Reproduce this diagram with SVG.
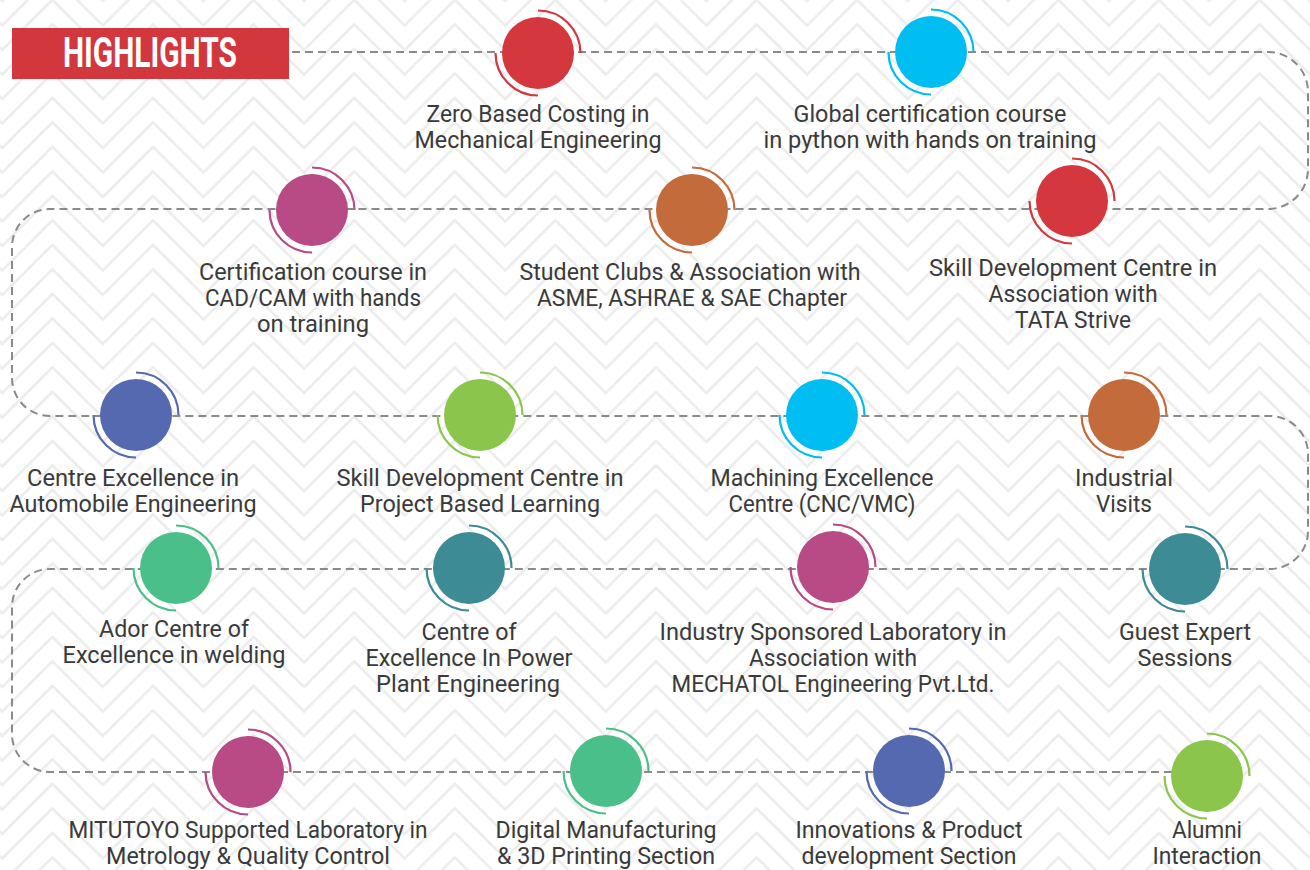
<svg xmlns="http://www.w3.org/2000/svg" xmlns:xlink="http://www.w3.org/1999/xlink" width="1310" height="870" viewBox="0 0 1310 870">
<style>
.lbl{font-family:Roboto,"Liberation Sans",sans-serif;font-size:23.5px;fill:#3a3a3a;text-anchor:middle}
.ttl{font-family:Roboto,"Liberation Sans",sans-serif;font-size:42px;font-weight:bold;fill:#ffffff;text-anchor:middle}
.conn{fill:none;stroke:#8a8a8a;stroke-width:2;stroke-dasharray:8 5}
.arc{fill:none;stroke-width:2.2}
.red circle{fill:#d4373d}.red use{stroke:#d4373d}
.cyan circle{fill:#00bdf2}.cyan use{stroke:#00bdf2}
.mag circle{fill:#b84a85}.mag use{stroke:#b84a85}
.org circle{fill:#c46b3c}.org use{stroke:#c46b3c}
.blue circle{fill:#5469b0}.blue use{stroke:#5469b0}
.lime circle{fill:#8cc54c}.lime use{stroke:#8cc54c}
.teal circle{fill:#3d8b95}.teal use{stroke:#3d8b95}
.grn circle{fill:#4bbf89}.grn use{stroke:#4bbf89}
</style>
<defs>
<pattern id="chev" patternUnits="userSpaceOnUse" x="2.1" y="-0.2" width="100.6" height="24.5">
<g fill="none" stroke="#ececec" stroke-width="2.6">
<path d="M-10,-38.7 L50.3,-49 L110.9,11.3" transform="translate(0,0)" style="display:none"/>
<path d="M-10,11.3 L50.3,-49 L110.9,11.3"/>
<path d="M-10,35.8 L50.3,-24.5 L110.9,35.8"/>
<path d="M-10,60.3 L50.3,0 L110.9,60.3"/>
<path d="M-10,84.8 L50.3,24.5 L110.9,84.8"/>
</g>
</pattern>
<path id="arcs" class="arc" d="M0,-42.5 A42.5,42.5 0 0 1 42.5,0 M-42.5,0 A42.5,42.5 0 0 0 0,42.5"/>
</defs>
<rect width="1310" height="870" fill="#ffffff"/>
<rect width="1310" height="870" fill="url(#chev)"/>

<g id="connectors">
<path class="conn" d="M292,52 H1268 A40,40 0 0 1 1308,92 V169 A40,40 0 0 1 1268,209 H50 A38,38 0 0 0 12,247 V378 A38,38 0 0 0 50,416 H1270 A38,38 0 0 1 1308,454 V531 A38,38 0 0 1 1270,569 H50 A38,38 0 0 0 12,607 V734 A38,38 0 0 0 50,772 H1172"/>
</g>

<g id="title">
<rect x="12" y="28" width="277" height="51" fill="#d2373d"/>
<text class="ttl" x="150" y="67" textLength="174" lengthAdjust="spacingAndGlyphs">HIGHLIGHTS</text>
</g>

<g id="n1" class="red"><circle cx="538" cy="53" r="36"/><use href="#arcs" x="538" y="53"/>
<text class="lbl" x="538" y="122" textLength="223" lengthAdjust="spacingAndGlyphs">Zero Based Costing in</text>
<text class="lbl" x="538" y="148" textLength="247" lengthAdjust="spacingAndGlyphs">Mechanical Engineering</text></g>

<g id="n2" class="cyan"><circle cx="931" cy="52" r="36"/><use href="#arcs" x="931" y="52"/>
<text class="lbl" x="930" y="122" textLength="273" lengthAdjust="spacingAndGlyphs">Global certification course</text>
<text class="lbl" x="930" y="148" textLength="333" lengthAdjust="spacingAndGlyphs">in python with hands on training</text></g>

<g id="n3" class="red"><circle cx="1072" cy="201" r="36"/><use href="#arcs" x="1072" y="201"/>
<text class="lbl" x="1073" y="276" textLength="288" lengthAdjust="spacingAndGlyphs">Skill Development Centre in</text>
<text class="lbl" x="1073" y="302" textLength="169" lengthAdjust="spacingAndGlyphs">Association with</text>
<text class="lbl" x="1073" y="328" textLength="116" lengthAdjust="spacingAndGlyphs">TATA Strive</text></g>

<g id="n4" class="org"><circle cx="692" cy="210" r="36"/><use href="#arcs" x="692" y="210"/>
<text class="lbl" x="690" y="280" textLength="341" lengthAdjust="spacingAndGlyphs">Student Clubs &amp; Association with</text>
<text class="lbl" x="692" y="306" textLength="310" lengthAdjust="spacingAndGlyphs">ASME, ASHRAE &amp; SAE Chapter</text></g>

<g id="n5" class="mag"><circle cx="312" cy="210" r="36"/><use href="#arcs" x="312" y="210"/>
<text class="lbl" x="313" y="280" textLength="228" lengthAdjust="spacingAndGlyphs">Certification course in</text>
<text class="lbl" x="313" y="306" textLength="216" lengthAdjust="spacingAndGlyphs">CAD/CAM with hands</text>
<text class="lbl" x="313" y="332" textLength="112" lengthAdjust="spacingAndGlyphs">on training</text></g>

<g id="n6" class="blue"><circle cx="136" cy="415" r="36"/><use href="#arcs" x="136" y="415"/>
<text class="lbl" x="133" y="486" textLength="212" lengthAdjust="spacingAndGlyphs">Centre Excellence in</text>
<text class="lbl" x="133" y="512" textLength="247" lengthAdjust="spacingAndGlyphs">Automobile Engineering</text></g>

<g id="n7" class="lime"><circle cx="480" cy="415" r="36"/><use href="#arcs" x="480" y="415"/>
<text class="lbl" x="480" y="486" textLength="287" lengthAdjust="spacingAndGlyphs">Skill Development Centre in</text>
<text class="lbl" x="480" y="512" textLength="240" lengthAdjust="spacingAndGlyphs">Project Based Learning</text></g>

<g id="n8" class="cyan"><circle cx="822" cy="415" r="36"/><use href="#arcs" x="822" y="415"/>
<text class="lbl" x="822" y="486" textLength="223" lengthAdjust="spacingAndGlyphs">Machining Excellence</text>
<text class="lbl" x="822" y="512" textLength="187" lengthAdjust="spacingAndGlyphs">Centre (CNC/VMC)</text></g>

<g id="n9" class="org"><circle cx="1124" cy="415" r="36"/><use href="#arcs" x="1124" y="415"/>
<text class="lbl" x="1124" y="486" textLength="98" lengthAdjust="spacingAndGlyphs">Industrial</text>
<text class="lbl" x="1124" y="512" textLength="56" lengthAdjust="spacingAndGlyphs">Visits</text></g>

<g id="n10" class="teal"><circle cx="1185" cy="569" r="36"/><use href="#arcs" x="1185" y="569"/>
<text class="lbl" x="1185" y="640" textLength="132" lengthAdjust="spacingAndGlyphs">Guest Expert</text>
<text class="lbl" x="1185" y="666">Sessions</text></g>

<g id="n11" class="mag"><circle cx="833" cy="567" r="36"/><use href="#arcs" x="833" y="567"/>
<text class="lbl" x="833" y="640" textLength="347" lengthAdjust="spacingAndGlyphs">Industry Sponsored Laboratory in</text>
<text class="lbl" x="833" y="666" textLength="168" lengthAdjust="spacingAndGlyphs">Association with</text>
<text class="lbl" x="833" y="692" textLength="323" lengthAdjust="spacingAndGlyphs">MECHATOL Engineering Pvt.Ltd.</text></g>

<g id="n12" class="teal"><circle cx="469" cy="568" r="36"/><use href="#arcs" x="469" y="568"/>
<text class="lbl" x="469" y="640" textLength="95" lengthAdjust="spacingAndGlyphs">Centre of</text>
<text class="lbl" x="469" y="666" textLength="207" lengthAdjust="spacingAndGlyphs">Excellence In Power</text>
<text class="lbl" x="468" y="692" textLength="184" lengthAdjust="spacingAndGlyphs">Plant Engineering</text></g>

<g id="n13" class="grn"><circle cx="176" cy="568" r="36"/><use href="#arcs" x="176" y="568"/>
<text class="lbl" x="174" y="637" textLength="150" lengthAdjust="spacingAndGlyphs">Ador Centre of</text>
<text class="lbl" x="174" y="663" textLength="223" lengthAdjust="spacingAndGlyphs">Excellence in welding</text></g>

<g id="n14" class="mag"><circle cx="248" cy="772" r="36"/><use href="#arcs" x="248" y="772"/>
<text class="lbl" x="248" y="838" textLength="359" lengthAdjust="spacingAndGlyphs">MITUTOYO Supported Laboratory in</text>
<text class="lbl" x="248" y="864" textLength="284" lengthAdjust="spacingAndGlyphs">Metrology &amp; Quality Control</text></g>

<g id="n15" class="grn"><circle cx="606" cy="771" r="36"/><use href="#arcs" x="606" y="771"/>
<text class="lbl" x="606" y="838" textLength="221" lengthAdjust="spacingAndGlyphs">Digital Manufacturing</text>
<text class="lbl" x="606" y="864" textLength="218" lengthAdjust="spacingAndGlyphs">&amp; 3D Printing Section</text></g>

<g id="n16" class="blue"><circle cx="909" cy="771" r="36"/><use href="#arcs" x="909" y="771"/>
<text class="lbl" x="909" y="838" textLength="227" lengthAdjust="spacingAndGlyphs">Innovations &amp; Product</text>
<text class="lbl" x="909" y="864" textLength="215" lengthAdjust="spacingAndGlyphs">development Section</text></g>

<g id="n17" class="lime"><circle cx="1207" cy="776" r="36"/><use href="#arcs" x="1207" y="776"/>
<text class="lbl" x="1207" y="838" textLength="70" lengthAdjust="spacingAndGlyphs">Alumni</text>
<text class="lbl" x="1207" y="864" textLength="109" lengthAdjust="spacingAndGlyphs">Interaction</text></g>
</svg>
